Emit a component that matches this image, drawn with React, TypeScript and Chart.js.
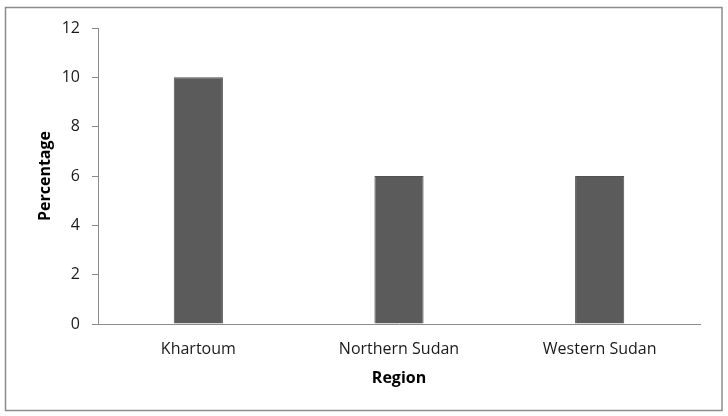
import React, { useEffect, useRef } from "react";
import { Chart, registerables } from "chart.js";

Chart.register(...registerables);

const categories = ["Khartoum", "Northern Sudan", "Western Sudan"];
const percentages = [10, 6, 6];
const yTicks = [0, 2, 4, 6, 8, 10, 12];

const FONT = "'Open Sans', 'DejaVu Sans', sans-serif";

const framePlugin = {
  id: "frame",
  beforeDraw(chart: any) {
    const ctx = chart.ctx;
    ctx.save();
    ctx.fillStyle = "#ffffff";
    ctx.fillRect(0, 0, chart.width, chart.height);
    ctx.strokeStyle = "#8c8c8c";
    ctx.lineWidth = 1.5;
    ctx.strokeRect(5.5, 7.5, 716.5, 403);
    ctx.restore();
  },
};

export default function App() {
  const ref = useRef<HTMLCanvasElement>(null);
  useEffect(() => {
    document.body.style.margin = "0";
    const chart = new Chart(ref.current!, {
      type: "bar",
      data: {
        labels: categories,
        datasets: [
          {
            data: percentages,
            backgroundColor: "#5b5b5b",
            borderColor: "#525252",
            borderWidth: 1,
            barPercentage: 0.245,
            categoryPercentage: 1,
          },
        ],
      },
      options: {
        responsive: false,
        animation: false,
        layout: { padding: { left: 0, right: 28, top: 28, bottom: 0 } },
        plugins: { legend: { display: false }, tooltip: { enabled: false } },
        scales: {
          x: {
            grid: { display: false, drawTicks: false },
            border: { display: true, color: "#8c8c8c", width: 1 },
            ticks: {
              padding: 16,
              color: "#1a1a1a",
              font: { family: FONT, size: 16 },
            },
            title: {
              display: true,
              text: "Region",
              color: "#000",
              font: { family: FONT, size: 16, weight: "bold" },
              padding: { top: 0, bottom: 28 },
            },
            afterFit(scale: any) {
              scale.height = 92;
            },
          },
          y: {
            min: 0,
            max: 12,
            afterBuildTicks(scale: any) {
              scale.ticks = yTicks.map((v) => ({ value: v }));
            },
            grid: {
              drawOnChartArea: false,
              drawTicks: true,
              tickLength: 6,
              color: "#8c8c8c",
            },
            border: { display: true, color: "#8c8c8c", width: 1 },
            ticks: {
              padding: 12,
              color: "#1a1a1a",
              font: { family: FONT, size: 16 },
            },
            title: {
              display: true,
              text: "Percentage",
              color: "#000",
              font: { family: FONT, size: 16, weight: "bold" },
              padding: { top: 36, bottom: 0 },
            },
            afterFit(scale: any) {
              scale.width = 98;
            },
          },
        },
      },
      plugins: [framePlugin],
    });
    return () => chart.destroy();
  }, []);
  return <canvas ref={ref} width={728} height={416} style={{ display: "block" }} />;
}
